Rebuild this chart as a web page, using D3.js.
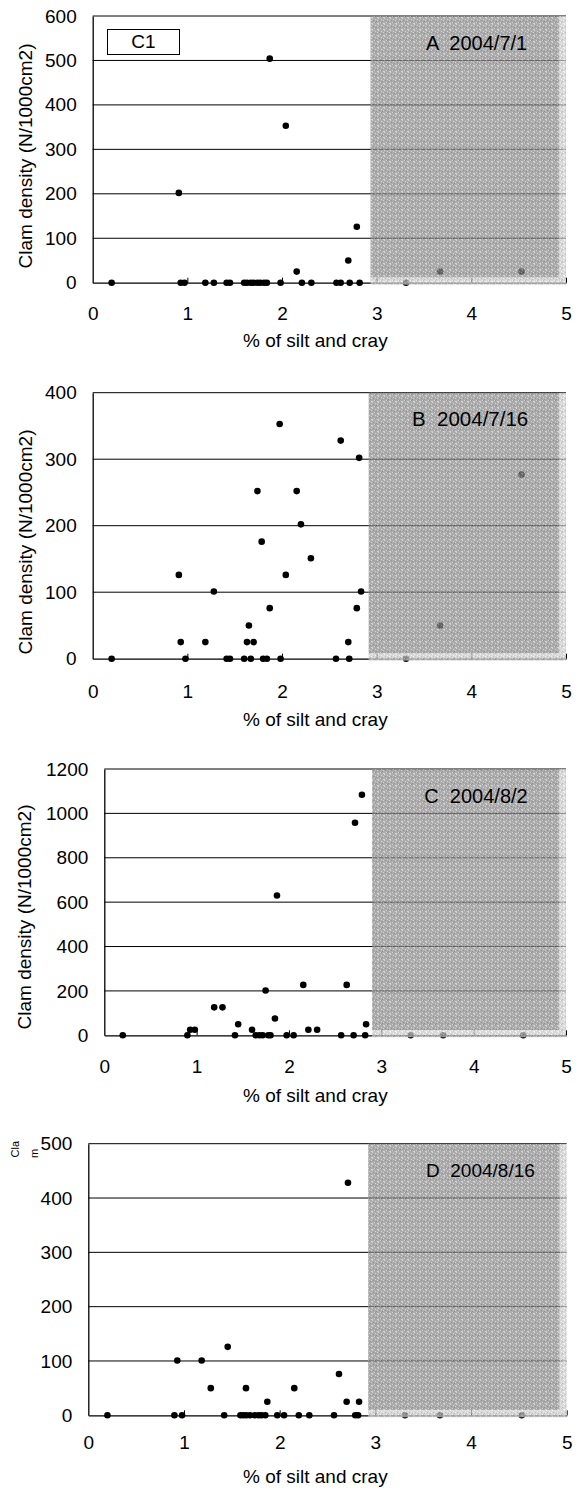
<!DOCTYPE html>
<html><head><meta charset="utf-8">
<script src="https://cdn.jsdelivr.net/npm/d3@7"></script>
<style>
body{margin:0;background:#fff}
svg{display:block}
text{font-family:"Liberation Sans",Arial,sans-serif;fill:#000;white-space:pre}
</style>
</head><body>
<script>
// ---------- data ----------
const xTicks = [0, 1, 2, 3, 4, 5];
const xTitle = "% of silt and cray";
const yTitle = "Clam density (N/1000cm2)";
const panelLabels = ["A  2004/7/1", "B  2004/7/16", "C  2004/8/2", "D  2004/8/16"];
const siteLabel = "C1";
const shadeFrom = [2.935, 2.915, 2.90, 2.925];

const siltA = [0.20, 0.91, 0.93, 0.97, 1.19, 1.28, 1.415, 1.45, 1.60, 1.63, 1.67, 1.70, 1.74, 1.77, 1.81, 1.84,
  1.87, 1.985, 2.04, 2.155, 2.21, 2.31, 2.575, 2.62, 2.70, 2.715, 2.79, 2.82, 3.31, 3.67, 4.53];
const densA = [0, 202, 0, 0, 0, 0, 0, 0, 0, 0, 0, 0, 0, 0, 0, 0,
  504, 0, 353, 25, 0, 0, 0, 0, 50, 0, 126, 0, 0, 25, 25];
const yTicksA = [0, 100, 200, 300, 400, 500, 600];

const siltB = [0.20, 0.91, 0.93, 0.98, 1.19, 1.28, 1.415, 1.45, 1.60, 1.63, 1.65, 1.67, 1.70, 1.74, 1.785, 1.80, 1.84,
  1.87, 1.975, 1.985, 2.04, 2.155, 2.20, 2.305, 2.57, 2.62, 2.70, 2.71, 2.79, 2.815, 2.835, 3.31, 3.67, 4.53];
const densB = [0, 126, 25, 0, 25, 101, 0, 0, 0, 25, 50, 0, 25, 252, 176, 0, 0,
  76, 353, 0, 126, 252, 202, 151, 0, 328, 25, 0, 76, 302, 101, 0, 50, 277];
const yTicksB = [0, 100, 200, 300, 400];

const siltC = [0.20, 0.90, 0.93, 0.98, 1.19, 1.28, 1.415, 1.45, 1.60, 1.64, 1.68, 1.715, 1.747, 1.776, 1.80, 1.848,
  1.87, 1.975, 2.05, 2.155, 2.21, 2.305, 2.565, 2.625, 2.70, 2.715, 2.79, 2.825, 2.835, 3.318, 3.67, 4.537];
const densC = [0, 0, 25, 25, 126, 126, 0, 50, 25, 0, 0, 0, 202, 0, 0, 76,
  630, 0, 0, 227, 25, 25, 0, 227, 0, 958, 1084, 0, 50, 0, 0, 0];
const yTicksC = [0, 200, 400, 600, 800, 1000, 1200];

const siltD = [0.20, 0.90, 0.93, 0.98, 1.185, 1.28, 1.42, 1.457, 1.59, 1.62, 1.648, 1.65, 1.69, 1.74, 1.78, 1.81, 1.85,
  1.871, 1.975, 2.046, 2.153, 2.20, 2.31, 2.568, 2.62, 2.70, 2.714, 2.79, 2.82, 2.83, 3.31, 3.675, 4.53];
const densD = [0, 0, 101, 0, 101, 50, 0, 126, 0, 0, 50, 0, 0, 0, 0, 0, 0,
  25, 0, 0, 50, 0, 0, 0, 76, 25, 428, 0, 0, 25, 0, 0, 0];
const yTicksD = [0, 100, 200, 300, 400, 500];

// ---------- layout ----------
const layouts = [
  {l: 92.7, r: 566, t: 16, b: 282.7, tickY: 320, titleY: 347.3, yTitleY: 156, yTitleX: 32, lab: {x: 426, y: 50, fs: 20}},
  {l: 92.7, r: 566, t: 392.7, b: 658.7, tickY: 698, titleY: 726, yTitleY: 542, yTitleX: 32, lab: {x: 412, y: 425.7, fs: 20.5}},
  {l: 104.3, r: 566, t: 769, b: 1035.3, tickY: 1072.7, titleY: 1101.7, yTitleY: 917, yTitleX: 31, lab: {x: 424.3, y: 803.3, fs: 20}},
  {l: 88.3, r: 566.7, t: 1143.7, b: 1415.3, tickY: 1449.3, titleY: 1483, yTitleY: null, yTitleX: null, lab: {x: 426, y: 1177.3, fs: 19}}
];
const panels = [
  {x: siltA, y: densA, ticks: yTicksA},
  {x: siltB, y: densB, ticks: yTicksB},
  {x: siltC, y: densC, ticks: yTicksC},
  {x: siltD, y: densD, ticks: yTicksD}
];

const W = 585, H = 1491, FS = 19;
const svg = d3.select("body").append("svg").attr("width", W).attr("height", H);
const defs = svg.append("defs");

// texture patterns for the shaded area
function makePattern(id, base, speck, dark) {
  const p = defs.append("pattern").attr("id", id).attr("patternUnits", "userSpaceOnUse")
    .attr("width", 6).attr("height", 6);
  p.append("rect").attr("width", 6).attr("height", 6).attr("fill", base);
  const pts = [[0,0],[3,1],[1,2],[5,2],[2,4],[4,3],[0,5],[5,5],[3,4]];
  pts.forEach(([a, b], i) => p.append("rect").attr("x", a).attr("y", b).attr("width", 1).attr("height", 1)
    .attr("fill", i % 3 === 2 ? dark : speck));
}
makePattern("shDark", "#8c8c8c", "#c2c2c2", "#6a6a6a");
makePattern("shLight", "#cacaca", "#ececec", "#a4a4a4");

panels.forEach((p, i) => {
  const L = layouts[i];
  const yMax = p.ticks[p.ticks.length - 1];
  const xs = d3.scaleLinear().domain([0, 5]).range([L.l, L.r]);
  const ys = d3.scaleLinear().domain([0, yMax]).range([L.b, L.t]);
  const g = svg.append("g");

  // gridlines
  g.selectAll(".grid").data(p.ticks.filter(v => v > 0)).join("line")
    .attr("x1", L.l).attr("x2", L.r).attr("y1", d => ys(d)).attr("y2", d => ys(d))
    .attr("stroke", "#000").attr("stroke-width", 1);

  // axes
  const yAxis = d3.axisLeft(ys).tickValues(p.ticks).tickSize(0).tickPadding(16).tickFormat(d3.format("d"));
  const ya = g.append("g").attr("transform", `translate(${L.l},0)`).call(yAxis);
  ya.select(".domain").attr("stroke", "#000").attr("stroke-width", 1.3);
  ya.selectAll("text").attr("font-size", FS).attr("font-family", '"Liberation Sans",Arial,sans-serif');

  const xAxis = d3.axisBottom(xs).tickValues(xTicks).tickSizeInner(-5).tickSizeOuter(0).tickFormat(d3.format("d"));
  const xa = g.append("g").attr("transform", `translate(0,${L.b})`).call(xAxis);
  xa.select(".domain").attr("stroke", "#000").attr("stroke-width", 1.3);
  xa.selectAll(".tick line").attr("stroke", "#000");
  xa.selectAll(".tick").filter(d => d === 0).select("line").remove();
  xa.selectAll("text").attr("font-size", FS).attr("font-family", '"Liberation Sans",Arial,sans-serif')
    .attr("y", L.tickY - L.b).attr("dy", 0);

  // points
  g.selectAll(".pt").data(p.x.map((v, k) => [v, p.y[k]])).join("circle")
    .attr("cx", d => xs(d[0])).attr("cy", d => ys(d[1])).attr("r", 3.3).attr("fill", "#000");

  // shaded region (semi-transparent texture over everything)
  const s0 = xs(shadeFrom[i]), rEdge = L.r, band = 7;
  const sh = g.append("g").attr("opacity", 0.72);
  sh.append("rect").attr("x", s0).attr("y", L.t).attr("width", rEdge - band - s0).attr("height", L.b - 5 - L.t)
    .attr("fill", "url(#shDark)");
  sh.append("rect").attr("x", rEdge - band).attr("y", L.t).attr("width", band).attr("height", L.b + 2 - L.t)
    .attr("fill", "url(#shLight)");
  sh.append("rect").attr("x", s0).attr("y", L.b - 5).attr("width", rEdge - band - s0).attr("height", 7)
    .attr("fill", "url(#shLight)");

  // panel label
  g.append("text").attr("x", L.lab.x).attr("y", L.lab.y).attr("font-size", L.lab.fs).text(panelLabels[i]);

  // x title
  g.append("text").attr("x", 243).attr("y", L.titleY).attr("font-size", FS).text(xTitle);

  // y title
  if (L.yTitleY !== null) {
    g.append("text").attr("transform", `translate(${L.yTitleX},${L.yTitleY}) rotate(-90)`)
      .attr("text-anchor", "middle").attr("font-size", FS).text(yTitle);
  } else {
    // truncated, wrapped title in panel D
    g.append("text").attr("transform", `translate(18.5,1157.5) rotate(-90)`).attr("font-size", 11).text(yTitle.slice(0, 3));
    g.append("text").attr("transform", `translate(38.3,1158) rotate(-90)`).attr("font-size", 11).text(yTitle.slice(3, 4));
  }

  // site box in first panel
  if (i === 0) {
    g.append("rect").attr("x", 107.5).attr("y", 29.5).attr("width", 72).attr("height", 25)
      .attr("fill", "#fff").attr("stroke", "#000").attr("stroke-width", 1);
    g.append("text").attr("x", 143.5).attr("y", 48.3).attr("text-anchor", "middle").attr("font-size", FS).text(siteLabel);
  }
});
</script>
</body></html>
